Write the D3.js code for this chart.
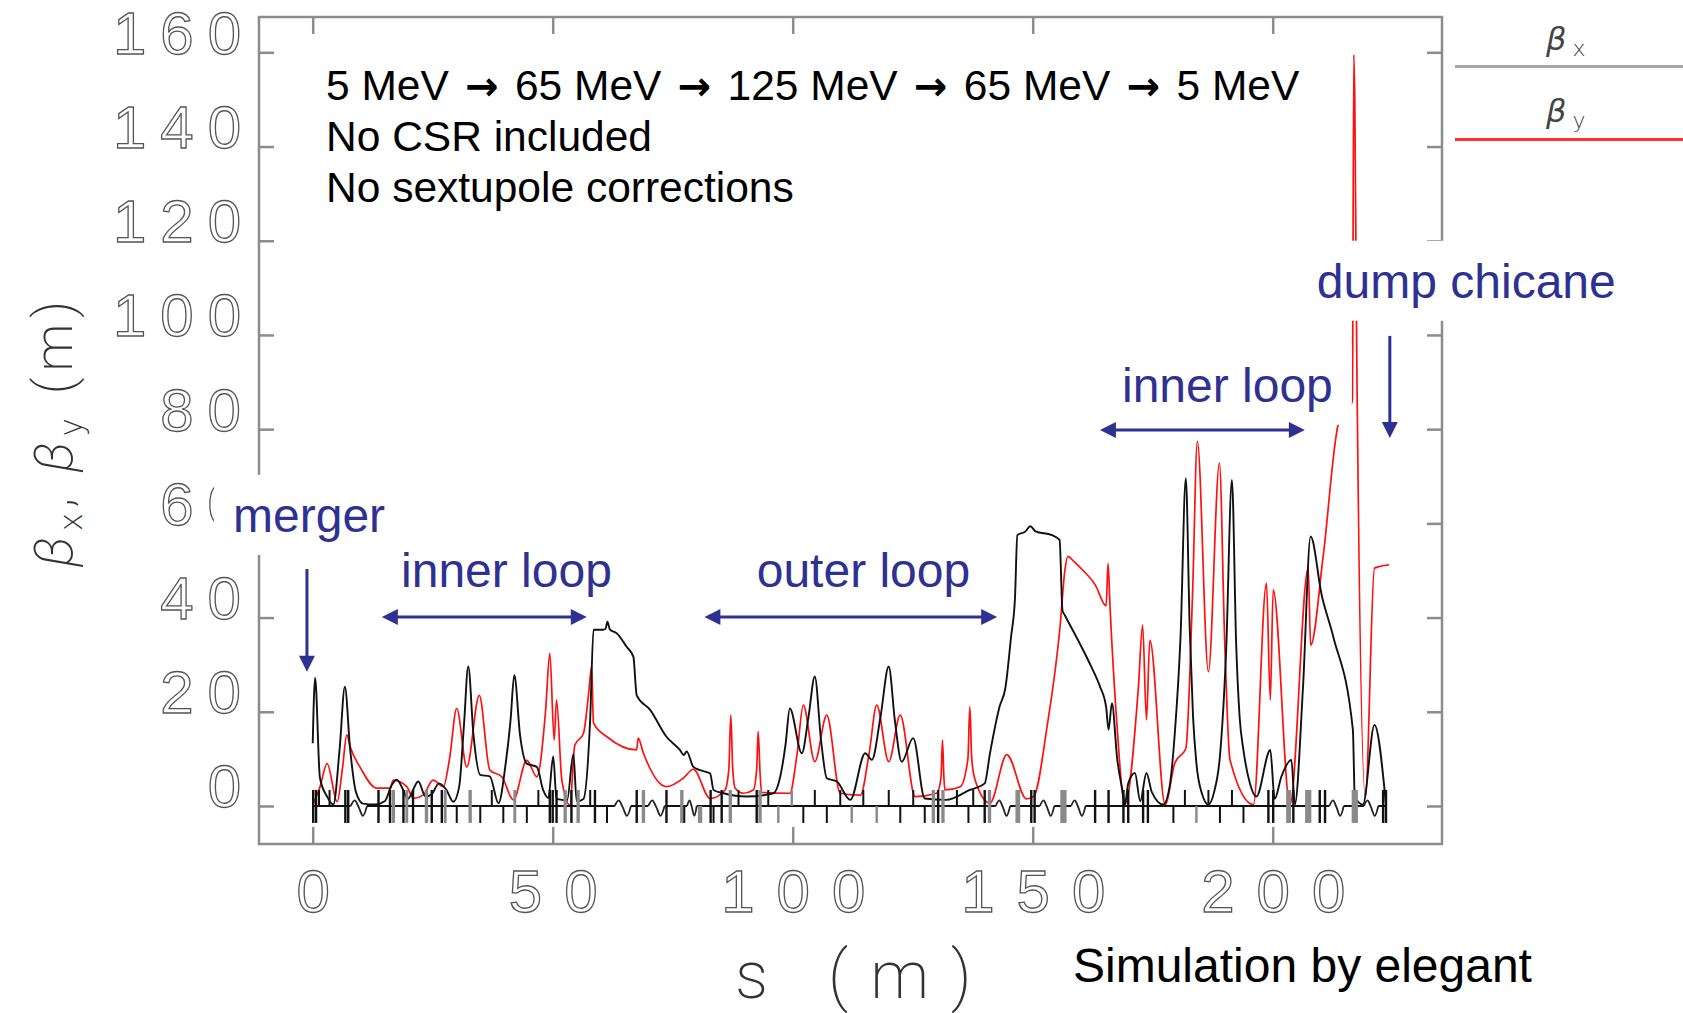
<!DOCTYPE html>
<html>
<head>
<meta charset="utf-8">
<script src="https://cdn.jsdelivr.net/npm/d3@7"></script>
<style>
  html, body { margin: 0; padding: 0; background: #fff; }
  svg { display: block; }
</style>
</head>
<body>
<script>
// beta functions, [s (m), beta (m)]
const betaX = [
  [0, 13.3], [0.5, 27.2], [1.5, 6.0], [3.0, 2.0], [4.3, 0.3], [5.6, 12], [6.7, 25.3], [7.8, 12], [9.0, 3.0],
  [10.5, 0.5], [13, 0.3], [15, 1.0], [16.5, 4.5], [17.5, 5.6], [18.8, 3.5], [19.8, 1.5], [22.0, 5.2],
  [23.5, 2.0], [24.8, 2.5], [26.3, 4.8], [27.8, 3.5], [29.3, 0.9], [30.5, 4.0], [31.5, 17], [32.4, 29.6],
  [33.5, 15], [34.9, 6.6], [36.9, 6.3], [38.7, 0.6], [40.2, 9], [41.2, 18], [42.0, 27.8], [43.2, 15],
  [44.6, 9.0], [46.7, 8.3], [48.0, 3.4], [49.1, 1.7], [50.1, 10.5], [50.8, 1.5], [53.0, 1.2], [54.3, 11],
  [55.0, 1.0], [56.4, 1.5], [57.8, 18.3], [58.5, 37.4], [60.5, 37.4], [61.0, 37.6], [61.4, 39.1],
  [61.9, 37.5], [63.3, 36.7], [65.4, 33.8], [66.8, 31.7], [67.5, 23.5], [70.3, 20.4], [73.7, 14.7],
  [76.5, 11.9], [77.3, 10.8], [77.9, 11.6], [79.3, 8.3], [80.7, 7.6], [82.8, 6.9], [83.5, 3.4], [85.6, 2.7],
  [90.4, 2.0], [96.0, 2.7], [97.4, 6.2], [98.5, 13], [99.4, 20.7], [101.9, 11.2], [103.3, 19], [104.6, 27.5],
  [105.9, 14], [107.1, 5.9], [109.2, 5.2], [112.0, 1.3], [115.1, 11.2], [116.5, 9.8], [118.3, 19],
  [120.0, 29.6], [121.3, 18], [122.7, 9.4], [125.1, 14.4], [127.5, 1.6], [132.0, 1.3], [136.9, 3.4],
  [140.0, 4.8], [141.1, 11.2], [143.1, 21.1], [144.3, 25], [145.5, 36], [146.3, 44], [146.8, 57.5],
  [148.5, 58.3], [149.5, 59.4], [150.6, 58.3], [154.0, 57.5], [155.6, 56.5], [156.2, 41.5], [156.7, 40.5],
  [159.8, 34.5], [162.0, 30], [164.0, 25.4], [165.3, 21], [165.8, 16.2], [166.5, 21.8], [167.6, 10],
  [168.8, 2.7], [169.2, 0.3], [169.9, 4.8], [171.3, 7.0], [172.4, 1.0], [173.7, 7.0], [174.8, 3.0],
  [177.2, 0.3], [178.5, 4], [179.6, 15.4], [180.8, 36], [181.9, 69.6], [182.7, 38], [183.4, 19], [184.1, 9.1],
  [185.3, 2.5], [186.6, 0.3], [187.8, 3], [189.0, 10.5], [190.3, 33], [191.5, 69.2], [192.4, 34],
  [193.1, 19], [193.9, 11.9], [195.2, 5], [196.6, 2.0], [199.5, 11.9], [200.4, 1.5], [201.8, 6.2],
  [203.9, 9.8], [204.6, 0.3], [206.3, 25], [207.9, 57.2], [210.2, 44.8], [212.6, 36.0], [216.7, 16.2],
  [217.1, 2.0], [218.8, 0.3], [221.2, 17.2], [223.6, 0.3]
];

const betaY = [
  [0, 0.2], [1.5, 4], [3.0, 9.0], [5.1, 0.9], [6.2, 8], [7.1, 15.1], [7.8, 12.6], [10, 8], [13.3, 3.8],
  [16.1, 3.8], [16.8, 5.5], [19.6, 4.1], [21.0, 1.6], [23.0, 2.3], [25.1, 5.5], [27.2, 4.1], [28.5, 10],
  [30.0, 20.7], [32.1, 8.3], [34.7, 23.5], [36.9, 7.6], [39.4, 6.2], [41.8, 1.3], [44.6, 9.7], [46.7, 6.2],
  [48.5, 20], [49.4, 32.4], [50.3, 14.0], [50.8, 22.5], [51.9, 5.5], [53.6, 0.2], [54.6, 12.9],
  [56.4, 15.4], [57.5, 24], [58.1, 29.6], [58.5, 17.6], [61.3, 14.7], [67.5, 11.9], [67.8, 14.4],
  [68.9, 11.2], [73.7, 4.1], [77.2, 5.9], [79.3, 7.8], [82.8, 1.6], [85.9, 3.4], [86.7, 8], [87.1, 19.3],
  [87.5, 8], [88.0, 3.8], [89.7, 2.7], [91.8, 3.4], [92.5, 8], [92.8, 15.8], [93.2, 7], [93.5, 2.9],
  [99.4, 2.7], [100.9, 11], [102.2, 21.4], [104.6, 9.4], [107.1, 19.3], [109.9, 2.7], [114.1, 2.3],
  [115.9, 11], [117.5, 21.4], [120.0, 9.4], [122.4, 19.3], [125.5, 2.0], [130.0, 2.7], [130.9, 6],
  [131.2, 14.0], [131.5, 6], [131.7, 3.4], [134.9, 4.1], [136.5, 10], [136.9, 21.1], [137.3, 10],
  [138.0, 5.5], [141.1, 0.6], [144.6, 10.9], [148.7, 1.5], [150.2, 2.0], [153.0, 16.9], [155.7, 38.1],
  [156.7, 50], [157.3, 53], [158.5, 52], [160.5, 50], [163.0, 47], [165.3, 42.5], [165.7, 51.5],
  [166.1, 42.5], [167.5, 18], [169.2, 0.3], [172.0, 25], [172.9, 38.4], [173.7, 18.3], [174.4, 35.2],
  [177.6, 0.3], [179.6, 9.1], [181.9, 12.2], [183.3, 45], [184.3, 77.4], [186.6, 28.5], [188.9, 72.8],
  [190.0, 35], [191.1, 9.8], [196.0, 0.3], [198.7, 47.3], [199.5, 22.5], [200.1, 45.9], [203.6, 0.3],
  [207.4, 50.5], [207.9, 34.1], [210.5, 52.9], [213.7, 81.2], [216.6, 86], [216.9, 159.5], [217.1, 150],
  [217.5, 97], [219.3, 2.0], [221.2, 50.5], [224.2, 51.2]
];

// magnet profile along the beamline: [s (m), kind, length (m)]
// B/G full box (black/grey), F/f box above, D/d box below, R rf cavity
const lattice = [
  [0.1, 'B', 0.5], [0.7, 'B', 0.5], [1.3, 'F', 0.4], [3.5, 'F', 0.4], [6.8, 'B', 0.5], [7.4, 'B', 0.5],
  [9.6, 'R', 3.4], [13.7, 'B', 0.5], [16.1, 'B', 0.5], [16.8, 'G', 0.7], [18.9, 'B', 0.5], [19.6, 'G', 0.6],
  [20.9, 'B', 0.5], [23.7, 'G', 0.7], [24.8, 'B', 0.5], [26.9, 'B', 0.5], [27.6, 'G', 0.6], [30.0, 'D', 0.4],
  [32.8, 'G', 0.7], [34.9, 'D', 0.4], [37.3, 'F', 0.4], [39.7, 'D', 0.4], [42.1, 'G', 0.6], [44.6, 'D', 0.4],
  [47.0, 'F', 0.4], [49.4, 'B', 0.5], [50.0, 'B', 0.5], [50.8, 'B', 0.5], [52.6, 'G', 0.7], [53.9, 'B', 0.5],
  [55.3, 'G', 0.7], [57.8, 'F', 0.4], [58.8, 'B', 0.5], [61.3, 'D', 0.4], [64.6, 'R', 3.4], [67.5, 'B', 0.5],
  [68.9, 'G', 0.7], [71.6, 'R', 3.4], [73.7, 'B', 0.5], [76.9, 'G', 0.7], [77.4, 'D', 0.4], [79.0, 'R', 2.0],
  [80.7, 'd', 0.9], [82.9, 'B', 0.5], [83.5, 'D', 0.4], [85.2, 'B', 0.5], [87.0, 'G', 0.7], [88.7, 'F', 0.4],
  [92.5, 'B', 0.5], [93.2, 'G', 0.7], [94.9, 'F', 0.4], [97.0, 'd', 0.5], [99.8, 'f', 0.5], [102.2, 'D', 0.4],
  [104.6, 'F', 0.4], [107.1, 'D', 0.4], [109.9, 'F', 0.4], [112.3, 'd', 0.5], [114.7, 'F', 0.4],
  [117.5, 'd', 0.5], [120.0, 'F', 0.4], [122.4, 'D', 0.4], [125.1, 'F', 0.4], [127.5, 'D', 0.4],
  [129.3, 'G', 0.7], [130.3, 'B', 0.5], [131.3, 'G', 0.7], [134.2, 'F', 0.4], [136.6, 'D', 0.4],
  [137.6, 'F', 0.4], [140.0, 'B', 0.5], [141.0, 'G', 0.7], [143.8, 'R', 3.0], [146.9, 'G', 1.0],
  [149.7, 'B', 0.5], [150.4, 'B', 0.5], [153.0, 'R', 3.0], [156.4, 'G', 1.3], [159.5, 'R', 3.0],
  [163.0, 'B', 0.5], [165.8, 'B', 0.5], [168.9, 'B', 0.5], [169.9, 'B', 0.5], [173.0, 'B', 0.5],
  [174.0, 'B', 0.5], [179.3, 'D', 0.4], [181.7, 'F', 0.4], [184.1, 'd', 0.5], [186.6, 'F', 0.4],
  [189.0, 'D', 0.4], [191.5, 'F', 0.4], [193.9, 'D', 0.4], [199.1, 'B', 0.5], [200.1, 'B', 0.5],
  [203.3, 'G', 1.0], [204.3, 'B', 0.5], [207.4, 'G', 1.3], [209.8, 'B', 0.5], [210.9, 'B', 0.5],
  [213.3, 'R', 3.0], [217.1, 'G', 1.3], [220.5, 'R', 3.0], [223.0, 'B', 0.5], [223.6, 'B', 0.5]
];

const yTicks = [0, 20, 40, 60, 80, 100, 120, 140, 160];
const xTicks = [0, 50, 100, 150, 200];

const energies = ['5 MeV', '65 MeV', '125 MeV', '65 MeV', '5 MeV'];
const notes = ['No CSR included', 'No sextupole corrections'];

// section labels (anchored in data units) and their arrows
const sections = [
  { text: 'merger', s: -16.6, b: 58.2 },
  { text: 'inner loop', s: 18.4, b: 46.5 },
  { text: 'outer loop', s: 92.5, b: 46.5 },
  { text: 'inner loop', s: 168.6, b: 85.8 },
  { text: 'dump chicane', s: 209.2, b: 107.9 }
];
const spanArrows = [[14.4, 57.1, 40.1], [81.6, 142.6, 40.1], [164.0, 206.7, 79.8]];
const downArrows = [[-1.2, 50.3, 28.5], [224.4, 99.8, 78.1]];

const W = 1683, H = 1013;
const BLUE = '#2e3192', FRAME = '#8c8c8c';
const SANS = 'Liberation Sans, Arial, sans-serif';

const svg = d3.select('body').append('svg').attr('width', W).attr('height', H);

const x = d3.scaleLinear().domain([-11.19, 235.27]).range([259, 1442]);
const y = d3.scaleLinear().domain([-8.07, 167.5]).range([844, 17]);
const [x0, x1] = x.range();
const [y0, y1] = y.range();

// Frame
svg.append('rect')
  .attr('x', x0).attr('y', y1).attr('width', x1 - x0).attr('height', y0 - y1)
  .attr('fill', 'none').attr('stroke', FRAME).attr('stroke-width', 2.5);

const tickStyle = (sel) => {
  sel.select('.domain').remove();
  sel.selectAll('line').attr('stroke', FRAME).attr('stroke-width', 2.5);
};
const hollow = (sel, ls) => sel.selectAll('text')
  .attr('font-family', SANS).attr('font-size', 60)
  .attr('fill', '#fff').attr('stroke', '#555').attr('stroke-width', 1.3)
  .style('letter-spacing', ls + 'px');

const lsY = 14, lsX = 22;
svg.append('g').attr('transform', `translate(${x0},0)`)
  .call(d3.axisLeft(y).tickValues(yTicks).tickSize(-15).tickPadding(18 - lsY).tickFormat(d3.format('d')))
  .call(tickStyle)
  .call((sel) => hollow(sel, lsY).attr('dy', 1));
svg.append('g').attr('transform', `translate(${x1},0)`)
  .call(d3.axisRight(y).tickValues(yTicks).tickSize(-15).tickFormat(''))
  .call(tickStyle);
svg.append('g').attr('transform', `translate(0,${y0})`)
  .call(d3.axisBottom(x).tickValues(xTicks).tickSize(-17).tickPadding(25).tickFormat(d3.format('d')))
  .call(tickStyle)
  .call((sel) => hollow(sel, lsX).attr('dx', lsX / 2));
svg.append('g').attr('transform', `translate(0,${y1})`)
  .call(d3.axisTop(x).tickValues(xTicks).tickSize(-17).tickFormat(''))
  .call(tickStyle);

// Axis titles
const title = svg.append('text')
  .attr('transform', 'translate(72,431) rotate(-90)')
  .attr('text-anchor', 'middle')
  .attr('font-family', 'Roboto, DejaVu Sans, sans-serif').attr('font-weight', 200)
  .attr('font-size', 54).attr('fill', '#333')
  .style('letter-spacing', '6px');
title.append('tspan').attr('font-style', 'italic').text('\u03b2');
title.append('tspan').attr('font-size', 34).attr('dy', 10).text('x');
title.append('tspan').attr('dy', -10).text(', ');
title.append('tspan').attr('font-style', 'italic').text('\u03b2');
title.append('tspan').attr('font-size', 34).attr('dy', 10).text('y');
title.append('tspan').attr('dy', -10).text('  (m)');

svg.append('text')
  .attr('x', 735).attr('y', 998)
  .attr('font-family', 'Roboto, DejaVu Sans, sans-serif').attr('font-weight', 200)
  .attr('font-size', 66).attr('fill', '#333')
  .style('letter-spacing', '22px')
  .text('s (m)');

// Beta functions
const line = d3.line().x((d) => x(d[0])).y((d) => y(d[1])).curve(d3.curveMonotoneX);
svg.append('path').datum(betaY)
  .attr('fill', 'none').attr('stroke', '#ff1010').attr('stroke-width', 1.7).attr('d', line);
svg.append('path').datum(betaX)
  .attr('fill', 'none').attr('stroke', '#111').attr('stroke-width', 1.9).attr('d', line);

// Magnet profile
const prof = svg.append('g');
const rf = lattice.filter((d) => d[1] === 'R');
const sEnd = d3.extent(lattice, (d) => d[0]);
let segStart = sEnd[0];
const segs = [];
rf.forEach((d) => { segs.push([segStart, d[0] - d[2] / 2]); segStart = d[0] + d[2] / 2; });
segs.push([segStart, sEnd[1]]);
prof.selectAll('.base').data(segs).join('line')
  .attr('x1', (d) => x(d[0])).attr('x2', (d) => x(d[1]))
  .attr('y1', y(0)).attr('y2', y(0))
  .attr('stroke', '#111').attr('stroke-width', 2);

const wiggle = d3.line().x((d) => x(d[0])).y((d) => y(d[1])).curve(d3.curveCatmullRom);
prof.selectAll('.rf').data(rf).join('path')
  .attr('fill', 'none').attr('stroke', '#222').attr('stroke-width', 1.8)
  .attr('d', (d) => wiggle([0, 0.25, 0.5, 0.75, 1].map((f, i) =>
    [d[0] - d[2] / 2 + f * d[2], [0, 1.2, -0.3, -2.1, 0][i]])));

const boxTop = { B: 3.4, G: 3.4, F: 3.4, f: 3.4, D: 0, d: 0 };
const boxBot = { B: -3.6, G: -3.6, F: 0, f: 0, D: -3.6, d: -3.6 };
prof.selectAll('.mag').data(lattice.filter((d) => d[1] !== 'R')).join('rect')
  .attr('x', (d) => x(d[0] - d[2] / 2))
  .attr('width', (d) => Math.max(2, x(d[0] + d[2] / 2) - x(d[0] - d[2] / 2)))
  .attr('y', (d) => y(boxTop[d[1]]))
  .attr('height', (d) => y(boxBot[d[1]]) - y(boxTop[d[1]]))
  .attr('fill', (d) => ('BFD'.includes(d[1]) ? '#111' : '#8a8a8a'));

// Legend
const legend = [
  { sym: 'x', colour: '#a6a6a6', ty: 50, ly: 66.5 },
  { sym: 'y', colour: '#ff3030', ty: 122, ly: 139.5 }
];
legend.forEach((d) => {
  svg.append('line').attr('x1', 1455).attr('x2', W).attr('y1', d.ly).attr('y2', d.ly)
    .attr('stroke', d.colour).attr('stroke-width', 3);
  const t = svg.append('text').attr('x', 1546).attr('y', d.ty)
    .attr('font-family', 'DejaVu Sans, sans-serif').attr('font-weight', 200)
    .attr('font-size', 32).attr('fill', '#444');
  t.append('tspan').attr('font-style', 'italic').text('\u03b2');
  t.append('tspan').attr('dx', 6).attr('dy', 6).attr('font-size', 22).text(d.sym);
});

// Notes
const head1 = svg.append('text').attr('x', 326).attr('y', 100)
  .attr('font-family', SANS).attr('font-size', 42.5).attr('fill', '#000');
energies.forEach((e, i) => {
  if (i > 0) {
    head1.append('tspan').text(' ');
    head1.append('tspan').attr('dx', 4.5).attr('font-family', 'DejaVu Sans, sans-serif')
      .attr('font-weight', 'bold').attr('font-size', 40).text('\u2192');
    head1.append('tspan').attr('dx', 4.5).text(' ');
  }
  head1.append('tspan').text(e);
});
svg.append('g').selectAll('text').data(notes).join('text')
  .attr('x', 326).attr('y', (d, i) => 151 + i * 51)
  .attr('font-family', SANS).attr('font-size', 42.5)
  .attr('fill', '#000').text((d) => d);

svg.append('text').attr('x', 1073).attr('y', 982)
  .attr('font-family', SANS).attr('font-size', 48)
  .attr('fill', '#000').text('Simulation by elegant');

// Section labels on white boxes
const ann = svg.append('g');
sections.forEach((d) => {
  const gx = x(d.s), gy = y(d.b);
  const box = ann.append('rect').attr('fill', '#fff');
  const t = ann.append('text').attr('x', gx).attr('y', gy)
    .attr('font-family', SANS).attr('font-size', 48)
    .attr('fill', BLUE).text(d.text);
  const w = t.node().getComputedTextLength();
  box.attr('x', gx - 19).attr('y', gy - 57).attr('width', w + 38).attr('height', 80);
});

const head = (px, py, dx, dy) => {
  const L = 16, hw = 8;
  const nx = -dy, ny = dx;
  return `M${px},${py}L${px - dx * L + nx * hw},${py - dy * L + ny * hw}L${px - dx * L - nx * hw},${py - dy * L - ny * hw}Z`;
};
spanArrows.forEach(([sa, sb, b]) => {
  const xa = x(sa), xb = x(sb), yy = y(b);
  ann.append('line').attr('x1', xa + 10).attr('x2', xb - 10).attr('y1', yy).attr('y2', yy)
    .attr('stroke', BLUE).attr('stroke-width', 3);
  ann.append('path').attr('d', head(xa, yy, -1, 0) + head(xb, yy, 1, 0)).attr('fill', BLUE);
});
downArrows.forEach(([s, ba, bb]) => {
  const xx = x(s), ya = y(ba), yb = y(bb);
  ann.append('line').attr('x1', xx).attr('x2', xx).attr('y1', ya).attr('y2', yb - 10)
    .attr('stroke', BLUE).attr('stroke-width', 3);
  ann.append('path').attr('d', head(xx, yb, 0, 1)).attr('fill', BLUE);
});
</script>
</body>
</html>
